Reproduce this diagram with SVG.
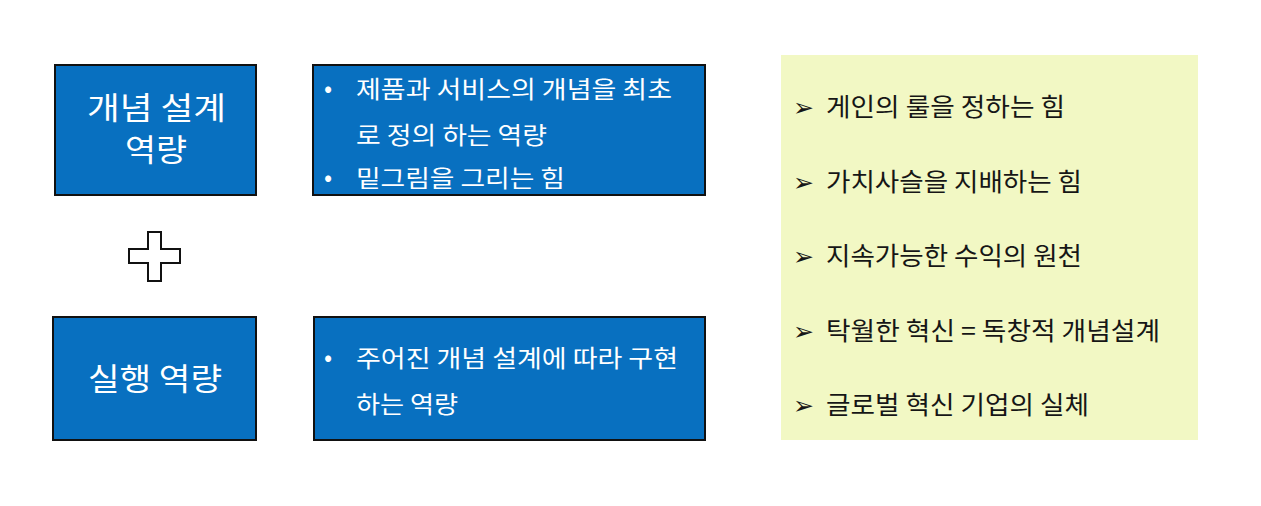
<svg xmlns="http://www.w3.org/2000/svg" width="1261" height="506" viewBox="0 0 1261 506">
<style>
.box{fill:#0870C0;stroke:#111;stroke-width:2}
.t{font-family:"Noto Sans CJK KR","Noto Sans",sans-serif;fill:#fff}
.big{font-size:31px;text-anchor:middle}
.sm{font-size:24px}
.k{font-family:"Noto Sans CJK KR","Noto Sans",sans-serif;font-size:25px;fill:#161616}
.arr{font-family:"DejaVu Sans",sans-serif;font-size:25px;fill:#161616}
</style>
<rect width="1261" height="506" fill="#fff"/>
<g id="concept">
<rect class="box" x="55" y="65" width="201" height="130"/>
<text class="t big" x="156.5" y="119" textLength="139" lengthAdjust="spacingAndGlyphs">개념 설계</text>
<text class="t big" x="156" y="161" textLength="62" lengthAdjust="spacingAndGlyphs">역량</text>
</g>
<g id="concept-desc">
<rect class="box" x="313" y="65" width="392" height="130"/>
<text class="t sm" x="324" y="97">•</text>
<text class="t sm" x="356" y="98" textLength="316" lengthAdjust="spacingAndGlyphs">제품과 서비스의 개념을 최초</text>
<text class="t sm" x="356" y="144" textLength="191" lengthAdjust="spacingAndGlyphs">로 정의 하는 역량</text>
<text class="t sm" x="324" y="186">•</text>
<text class="t sm" x="356" y="187" textLength="209" lengthAdjust="spacingAndGlyphs">밑그림을 그리는 힘</text>
</g>
<g id="plus">
<path d="M148,232 H161 V249 H180 V263 H161 V281 H148 V263 H129 V249 H148 Z" fill="#fff" stroke="#111" stroke-width="2"/>
</g>
<g id="execution">
<rect class="box" x="53" y="317" width="203" height="123"/>
<text class="t big" x="155" y="390" textLength="134" lengthAdjust="spacingAndGlyphs">실행 역량</text>
</g>
<g id="execution-desc">
<rect class="box" x="314" y="317" width="391" height="123"/>
<text class="t sm" x="324" y="366">•</text>
<text class="t sm" x="356" y="367" textLength="322" lengthAdjust="spacingAndGlyphs">주어진 개념 설계에 따라 구현</text>
<text class="t sm" x="356" y="413" textLength="102" lengthAdjust="spacingAndGlyphs">하는 역량</text>
</g>
<g id="panel">
<rect x="781" y="55" width="417" height="385" fill="#F2F8C4"/>
<text class="arr" x="793" y="116">➢</text>
<text class="k" x="826" y="116" textLength="239" lengthAdjust="spacingAndGlyphs">게인의 룰을 정하는 힘</text>
<text class="arr" x="793" y="191">➢</text>
<text class="k" x="826" y="191" textLength="256" lengthAdjust="spacingAndGlyphs">가치사슬을 지배하는 힘</text>
<text class="arr" x="793" y="265">➢</text>
<text class="k" x="826" y="265" textLength="256" lengthAdjust="spacingAndGlyphs">지속가능한 수익의 원천</text>
<text class="arr" x="793" y="340">➢</text>
<text class="k" x="826" y="340" textLength="334" lengthAdjust="spacingAndGlyphs">탁월한 혁신 = 독창적 개념설계</text>
<text class="arr" x="793" y="414">➢</text>
<text class="k" x="826" y="414" textLength="263" lengthAdjust="spacingAndGlyphs">글로벌 혁신 기업의 실체</text>
</g>
</svg>
